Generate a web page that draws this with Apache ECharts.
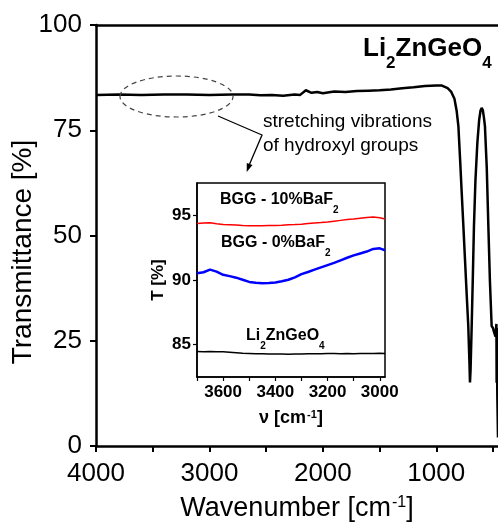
<!DOCTYPE html>
<html lang="en">
<head>
<meta charset="UTF-8">
<title>Li2ZnGeO4 FTIR</title>
<script src="https://cdn.jsdelivr.net/npm/echarts@6/dist/echarts.min.js"></script>
<style>
  html, body { margin: 0; padding: 0; background: #fff; }
  #chart { width: 498px; height: 527px; }
</style>
</head>
<body>
<div id="chart"></div>
<script>
// main spectrum
var wavenumber = [4000, 3800, 3600, 3400, 3200, 3000, 2800, 2650, 2550, 2450, 2350, 2250, 2200, 2150, 2100, 2050, 2000,
  1900, 1800, 1700, 1600, 1500, 1400, 1300, 1200, 1100, 1000, 950, 900, 870, 840, 820, 805, 790, 776, 760, 747, 732,
  718, 708, 703, 698, 688, 678, 668, 655, 638, 622, 610, 600, 590, 580, 571, 555, 541, 527, 512, 500, 490, 478, 470,
  468, 466, 462, 456];
var transmittance = [83.4, 83.5, 83.4, 83.5, 83.5, 83.4, 83.5, 83.5, 83.3, 83.4, 83.2, 83.5, 83.4, 84.5, 83.9, 84.1, 83.8,
  84.2, 84.1, 84.3, 84.4, 84.5, 84.7, 85.0, 85.2, 85.5, 85.6, 85.6, 85.0, 84.2, 82.5, 79.5, 75.9, 68.0, 60.2, 51.5, 44.3, 36.0,
  28.5, 20.0, 15.1, 18.0, 28.5, 40.0, 52.2, 63.0, 72.0, 77.5, 79.7, 80.3, 79.8, 78.0, 75.9, 66.0, 52.2, 39.0, 28.5, 28.0, 27.0, 26.0, 29.0,
  15.0, 28.0, 12.0, 2.0];
var mainXLabels = [4000, 3000, 2000, 1000];
var mainXTicks = [4000, 3500, 3000, 2500, 2000, 1500, 1000, 500];

// inset: O-H stretching region
var insetWn = [3700, 3675, 3650, 3625, 3600, 3575, 3550, 3525, 3500, 3475, 3450, 3425, 3400, 3375, 3350, 3325, 3300,
  3275, 3250, 3225, 3200, 3175, 3150, 3125, 3100, 3075, 3050, 3025, 3000, 2980];
var bgg10 = [94.36, 94.40, 94.42, 94.35, 94.30, 94.28, 94.25, 94.22, 94.20, 94.20, 94.19, 94.21, 94.22, 94.24, 94.27, 94.29, 94.32,
  94.36, 94.40, 94.44, 94.49, 94.55, 94.61, 94.67, 94.72, 94.78, 94.84, 94.87, 94.82, 94.72];
var bgg0 = [90.52, 90.60, 90.80, 90.65, 90.40, 90.30, 90.18, 90.02, 89.85, 89.78, 89.74, 89.76, 89.80, 89.90, 90.02, 90.20, 90.45,
  90.62, 90.80, 90.98, 91.15, 91.32, 91.52, 91.72, 91.90, 92.05, 92.20, 92.40, 92.45, 92.30];
var lzgo = [84.48, 84.46, 84.47, 84.45, 84.45, 84.42, 84.38, 84.34, 84.32, 84.30, 84.29, 84.28, 84.28, 84.27, 84.26, 84.27, 84.28,
  84.29, 84.30, 84.30, 84.31, 84.31, 84.30, 84.31, 84.30, 84.31, 84.32, 84.32, 84.33, 84.32];
var insetXLabels = [3600, 3400, 3200, 3000];
var insetXTicks = [3700, 3600, 3500, 3400, 3300, 3200, 3100, 3000];
var insetYLabels = [85, 90, 95];

var FONT = '"Liberation Sans", Arial, sans-serif';

function pairs(xs, ys) {
  return xs.map(function (x, i) { return [x, ys[i]]; });
}
function plain(v) { return String(v); }

// rich text helper: main text with a lowered subscript
function subRich(size, subSize, drop) {
  return {
    m: { fontFamily: FONT, fontSize: size, fontWeight: 'bold', color: '#000', lineHeight: size + 4, verticalAlign: 'top' },
    s: { fontFamily: FONT, fontSize: subSize, fontWeight: 'bold', color: '#000', lineHeight: subSize, verticalAlign: 'top', padding: [drop, 0, 0, 0] }
  };
}

var myChart = echarts.init(document.getElementById('chart'));

myChart.setOption({
  animation: false,
  backgroundColor: '#fff',
  grid: [
    { left: 96, top: 25, right: 0, bottom: 80 },
    { left: 197, top: 183, width: 188, height: 194, show: true, backgroundColor: '#fff', borderColor: '#000', borderWidth: 1.5, z: 5 }
  ],
  xAxis: [
    {
      gridIndex: 0, type: 'value', inverse: true, min: 456, max: 4000,
      name: '{a|Wavenumber [cm}{b|-1}{a|]}', nameLocation: 'middle', nameGap: 49,
      nameTextStyle: {
        rich: {
          a: { fontFamily: FONT, fontSize: 27, color: '#000', lineHeight: 30, verticalAlign: 'top' },
          b: { fontFamily: FONT, fontSize: 16, color: '#000', lineHeight: 16, verticalAlign: 'top', padding: [0, 0, 0, 1] }
        }
      },
      axisLine: { show: true, onZero: false, lineStyle: { color: '#000', width: 2.5 } },
      axisTick: { show: true, inside: false, length: 6, customValues: mainXTicks, lineStyle: { color: '#000', width: 2 } },
      axisLabel: { customValues: mainXLabels, formatter: plain, margin: 15, fontFamily: FONT, fontSize: 26, color: '#000' },
      splitLine: { show: false }
    },
    {
      gridIndex: 0, type: 'value', position: 'top', inverse: true, min: 456, max: 4000,
      axisLine: { show: true, onZero: false, lineStyle: { color: '#000', width: 2.5 } },
      axisTick: { show: false }, axisLabel: { show: false }, splitLine: { show: false }
    },
    {
      gridIndex: 1, type: 'value', inverse: true, min: 2980, max: 3700,
      name: '{a|ν [cm}{b|-1}{a|]}', nameLocation: 'middle', nameGap: 32,
      nameTextStyle: {
        rich: {
          a: { fontFamily: FONT, fontSize: 18, fontWeight: 'bold', color: '#000', lineHeight: 20, verticalAlign: 'top' },
          b: { fontFamily: FONT, fontSize: 11, fontWeight: 'bold', color: '#000', lineHeight: 11, verticalAlign: 'top', padding: [0, 0, 0, 1] }
        }
      },
      axisLine: { show: true, onZero: false, lineStyle: { color: '#000', width: 1.5 } },
      axisTick: { show: true, inside: false, length: 4, customValues: insetXTicks, lineStyle: { color: '#000', width: 1.2 } },
      axisLabel: { customValues: insetXLabels, formatter: plain, margin: 7, fontFamily: FONT, fontSize: 17, fontWeight: 'bold', color: '#000' },
      splitLine: { show: false }, z: 6
    }
  ],
  yAxis: [
    {
      gridIndex: 0, type: 'value', min: 0, max: 100, interval: 25,
      axisLine: { show: true, onZero: false, lineStyle: { color: '#000', width: 2.5 } },
      axisTick: { show: true, inside: false, length: 6, lineStyle: { color: '#000', width: 2 } },
      axisLabel: { margin: 14, fontFamily: FONT, fontSize: 26, color: '#000' },
      splitLine: { show: false }
    },
    {
      gridIndex: 1, type: 'value', min: 82.5, max: 97.5,
      name: 'T [%]', nameLocation: 'middle', nameGap: 30,
      nameTextStyle: { fontFamily: FONT, fontSize: 17, fontWeight: 'bold', color: '#000' },
      axisLine: { show: true, onZero: false, lineStyle: { color: '#000', width: 1.5 } },
      axisTick: { show: true, inside: false, length: 4, customValues: insetYLabels, lineStyle: { color: '#000', width: 1.2 } },
      axisLabel: { customValues: insetYLabels, formatter: plain, margin: 6, fontFamily: FONT, fontSize: 17, fontWeight: 'bold', color: '#000' },
      splitLine: { show: false }, z: 6
    }
  ],
  series: [
    {
      name: 'Li2ZnGeO4', type: 'line', xAxisIndex: 0, yAxisIndex: 0,
      data: pairs(wavenumber, transmittance), showSymbol: false,
      lineStyle: { color: '#000', width: 2.5 }
    },
    {
      name: 'BGG - 10%BaF2', type: 'line', xAxisIndex: 2, yAxisIndex: 1, z: 7,
      data: pairs(insetWn, bgg10), showSymbol: false,
      lineStyle: { color: '#ff0000', width: 1.5 }
    },
    {
      name: 'BGG - 0%BaF2', type: 'line', xAxisIndex: 2, yAxisIndex: 1, z: 7,
      data: pairs(insetWn, bgg0), showSymbol: false,
      lineStyle: { color: '#0000ff', width: 2.5 }
    },
    {
      name: 'Li2ZnGeO4 inset', type: 'line', xAxisIndex: 2, yAxisIndex: 1, z: 7,
      data: pairs(insetWn, lzgo), showSymbol: false,
      lineStyle: { color: '#000', width: 1.5 }
    }
  ],
  graphic: [
    // y axis title, placed a bit below the axis centre as in the original
    { type: 'text', x: 23, y: 252, rotation: Math.PI / 2, z: 10,
      style: { text: 'Transmittance [%]', fontFamily: FONT, fontSize: 28, fill: '#000', align: 'center', verticalAlign: 'middle' } },
    // sample name, top right
    { type: 'text', left: 363, top: 36, z: 10,
      style: { text: '{m|Li}{s|2}{m|ZnGeO}{s|4}', rich: subRich(26, 17, 19) } },
    // annotation
    { type: 'ellipse', z: 10, shape: { cx: 176.5, cy: 96.5, rx: 56.5, ry: 20.5 },
      style: { fill: 'none', stroke: '#444', lineWidth: 1.2, lineDash: [5, 4] } },
    { type: 'polyline', z: 10, shape: { points: [[218, 116], [262, 135], [247.5, 169]] },
      style: { fill: 'none', stroke: '#000', lineWidth: 1.3 } },
    { type: 'polygon', z: 10, shape: { points: [[246.7, 172], [252.5, 165], [246.8, 163]] },
      style: { fill: '#000' } },
    { type: 'text', left: 263, top: 112, z: 10,
      style: { text: 'stretching vibrations', fontFamily: FONT, fontSize: 19, fill: '#000' } },
    { type: 'text', left: 263, top: 136, z: 10,
      style: { text: 'of hydroxyl groups', fontFamily: FONT, fontSize: 19, fill: '#000' } },
    // inset labels
    { type: 'text', left: 220, top: 192, z: 10,
      style: { text: '{m|BGG - 10%BaF}{s|2}', rich: subRich(16, 10, 13) } },
    { type: 'text', left: 221, top: 235, z: 10,
      style: { text: '{m|BGG - 0%BaF}{s|2}', rich: subRich(16, 10, 13) } },
    { type: 'text', left: 246, top: 328, z: 10,
      style: { text: '{m|Li}{s|2}{m|ZnGeO}{s|4}', rich: subRich(16, 10, 13) } }
  ]
});
</script>
</body>
</html>
